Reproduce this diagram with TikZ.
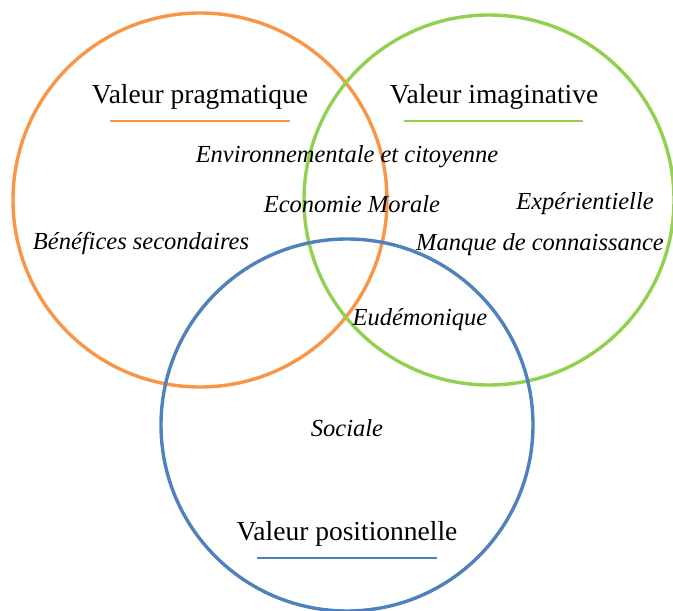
\documentclass[tikz,border=0pt]{standalone}
\usepackage{fontspec}
\setmainfont{Liberation Serif}
\definecolor{vorange}{HTML}{F79646}
\definecolor{vgreen}{HTML}{92D050}
\definecolor{vblue}{HTML}{4F81BD}
\begin{document}
\begin{tikzpicture}[x=1pt,y=1pt,
  ring/.style={line width=3.4pt},
  uline/.style={line width=2.2pt},
  head/.style={font=\fontsize{27.5}{31}\selectfont, inner sep=0pt},
  item/.style={font=\fontsize{24.5}{28}\selectfont\itshape, inner sep=0pt}]
\useasboundingbox (0,0) rectangle (673,611);
\draw[ring, vorange] (200,411) circle (187);
\draw[ring, vgreen] (489,411) circle (185);
\draw[ring, vblue] (347,186) circle (186);
\node[head] (hp) at (200,514) {Valeur pragmatique};
\node[head] (hi) at (494,514) {Valeur imaginative};
\node[head] (hpos) at (347,77) {Valeur positionnelle};
\coordinate (p1) at (110,490); \coordinate (p2) at (290,490);
\coordinate (i1) at (404,490); \coordinate (i2) at (583,490);
\coordinate (s1) at (257,53); \coordinate (s2) at (437,53);
\draw[uline, vorange] (p1) -- (p2);
\draw[uline, vgreen] (i1) -- (i2);
\draw[uline, vblue] (s1) -- (s2);
\node[item] (env) at (347,454) {Environnementale et citoyenne};
\node[item] (eco) at (352,407) {Economie Morale};
\node[item] (exp) at (585,407) {Expérientielle};
\node[item] (ben) at (141,368) {Bénéfices secondaires};
\node[item] (man) at (540,366) {Manque de connaissance};
\node[item] (eud) at (420,291) {Eudémonique};
\node[item] (soc) at (347,183) {Sociale};
\end{tikzpicture}
\end{document}
